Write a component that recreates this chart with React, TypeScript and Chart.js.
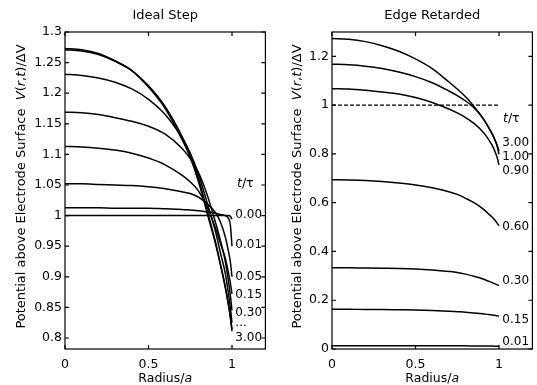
import React, { useEffect, useRef } from 'react';
import { Chart, registerables } from 'chart.js';

Chart.register(...registerables);

const FAMILY = '"DejaVu Sans", Verdana, sans-serif';

// radial positions r/a shared by every curve
const RADIUS = [0, 0.1, 0.2, 0.3, 0.4, 0.5, 0.6, 0.7, 0.75, 0.8, 0.85, 0.9, 0.93, 0.96, 0.98, 0.99, 1.0];

// ---- Ideal Step panel ----
const STEP_T000 = [1, 1, 1, 1, 1, 1, 1, 1, 1, 1, 1, 1, 1, 1, 1, 0.999, 0.994];
const STEP_T001 = [1.013, 1.013, 1.013, 1.012, 1.012, 1.012, 1.011, 1.01, 1.009, 1.008, 1.006, 1.004, 1.002, 1.0, 0.995, 0.985, 0.95];
const STEP_T005 = [1.052, 1.052, 1.051, 1.05, 1.049, 1.047, 1.044, 1.039, 1.036, 1.03, 1.02, 1.005, 0.99, 0.965, 0.94, 0.925, 0.9];
const STEP_T015 = [1.113, 1.112, 1.11, 1.107, 1.102, 1.094, 1.083, 1.066, 1.055, 1.04, 1.015, 0.98, 0.955, 0.93, 0.905, 0.89, 0.872];
const STEP_T030 = [1.169, 1.168, 1.165, 1.16, 1.154, 1.146, 1.133, 1.11, 1.093, 1.07, 1.035, 0.99, 0.96, 0.925, 0.89, 0.87, 0.845];
const STEP_T060 = [1.231, 1.229, 1.225, 1.218, 1.207, 1.19, 1.165, 1.127, 1.102, 1.067, 1.022, 0.975, 0.94, 0.905, 0.87, 0.85, 0.825];
const STEP_T100 = [1.271, 1.269, 1.263, 1.252, 1.237, 1.212, 1.178, 1.13, 1.1, 1.06, 1.01, 0.958, 0.922, 0.884, 0.853, 0.835, 0.814];
const STEP_T300 = [1.273, 1.271, 1.265, 1.253, 1.237, 1.21, 1.175, 1.125, 1.095, 1.055, 1.005, 0.955, 0.92, 0.882, 0.852, 0.834, 0.811];
const STEP_SERIES = [STEP_T000, STEP_T001, STEP_T005, STEP_T015, STEP_T030, STEP_T060, STEP_T100, STEP_T300];
const STEP_LABELS = ['0.00', '0.01', '0.05', '0.15', '0.30', '...', '3.00'];
const STEP_LABEL_Y = [1.001, 0.952, 0.9, 0.87, 0.841, 0.825, 0.8];
const STEP_Y_TICKS = [0.8, 0.85, 0.9, 0.95, 1.0, 1.05, 1.1, 1.15, 1.2, 1.25, 1.3];

// ---- Edge Retarded panel ----
const RET_T001 = [0.013, 0.013, 0.013, 0.013, 0.013, 0.013, 0.013, 0.013, 0.013, 0.013, 0.012, 0.012, 0.012, 0.012, 0.011, 0.011, 0.011];
const RET_T015 = [0.163, 0.163, 0.162, 0.162, 0.161, 0.16, 0.158, 0.155, 0.153, 0.151, 0.148, 0.145, 0.142, 0.139, 0.137, 0.136, 0.134];
const RET_T030 = [0.333, 0.333, 0.332, 0.331, 0.33, 0.328, 0.324, 0.318, 0.314, 0.307, 0.298, 0.288, 0.28, 0.272, 0.266, 0.263, 0.26];
const RET_T060 = [0.694, 0.693, 0.691, 0.687, 0.681, 0.673, 0.661, 0.645, 0.634, 0.618, 0.6, 0.577, 0.559, 0.54, 0.525, 0.515, 0.505];
const RET_T090 = [1.067, 1.066, 1.061, 1.054, 1.046, 1.031, 1.011, 0.984, 0.968, 0.949, 0.925, 0.893, 0.867, 0.834, 0.803, 0.783, 0.755];
const RET_T100 = [1.168, 1.166, 1.16, 1.15, 1.136, 1.117, 1.092, 1.058, 1.039, 1.017, 0.99, 0.95, 0.918, 0.881, 0.849, 0.829, 0.798];
const RET_T300 = [1.273, 1.27, 1.2605, 1.244, 1.221, 1.1895, 1.1495, 1.095, 1.066, 1.0346, 0.995, 0.9498, 0.9175, 0.8806, 0.8512, 0.8336, 0.8106];
const RET_SERIES = [RET_T001, RET_T015, RET_T030, RET_T060, RET_T090, RET_T100, RET_T300];
const RET_REF_X = [0, 1.0];
const RET_REF_Y = [1.0, 1.0];
const RET_LABELS = ['3.00', '1.00', '0.90', '0.60', '0.30', '0.15', '0.01'];
const RET_LABEL_Y = [0.845, 0.788, 0.731, 0.502, 0.278, 0.118, 0.029];
const RET_Y_TICKS = [0, 0.2, 0.4, 0.6, 0.8, 1.0, 1.2];

const X_TICKS = [0, 0.5, 1];

type Seg = { t: string; i?: boolean };

const Y_TITLE: Seg[] = [
  { t: 'Potential above Electrode Surface  ' },
  { t: 'V', i: true },
  { t: '(' },
  { t: 'r', i: true },
  { t: ',' },
  { t: 't', i: true },
  { t: ')/ΔV' },
];
const X_TITLE: Seg[] = [{ t: 'Radius/' }, { t: 'a', i: true }];
const TAU_TITLE: Seg[] = [{ t: 't', i: true }, { t: '/τ' }];

function drawRich(ctx: CanvasRenderingContext2D, segs: Seg[], x: number, y: number, size: number, align: 'center' | 'left') {
  const widths = segs.map((s) => {
    ctx.font = `${s.i ? 'italic ' : ''}${size}px ${FAMILY}`;
    return ctx.measureText(s.t).width;
  });
  const total = widths.reduce((a, b) => a + b, 0);
  let cx = align === 'center' ? x - total / 2 : x;
  ctx.textAlign = 'left';
  ctx.textBaseline = 'middle';
  segs.forEach((s, k) => {
    ctx.font = `${s.i ? 'italic ' : ''}${size}px ${FAMILY}`;
    ctx.fillText(s.t, cx, y);
    cx += widths[k];
  });
}

type Panel = {
  title: string;
  series: number[][];
  dashedX?: number[];
  dashedY?: number[];
  yMin: number;
  yMax: number;
  yTicks: number[];
  labels: string[];
  labelY: number[];
  tauY: number;
  tauX: number;
  labelX: number;
  yAxisWidth: number;
  rightPad: number;
  yTitleOffset: number;
};

const TICK_LEN = 4;

function makeChart(canvas: HTMLCanvasElement, p: Panel) {
  const datasets: any[] = p.series.map((s) => ({
    data: RADIUS.map((r, k) => ({ x: r, y: s[k] })),
    borderColor: '#000',
    borderWidth: 1.5,
    pointRadius: 0,
    fill: false,
    cubicInterpolationMode: 'monotone',
  }));
  if (p.dashedX && p.dashedY) {
    datasets.push({
      data: p.dashedX.map((x, k) => ({ x, y: p.dashedY![k] })),
      borderColor: '#000',
      borderWidth: 1.2,
      borderDash: [4, 2],
      pointRadius: 0,
      fill: false,
    });
  }
  const overlay = {
    id: 'overlay',
    afterDraw(chart: any) {
      const { ctx, chartArea: a, scales } = chart;
      const xs = scales.x;
      const ys = scales.y;
      ctx.save();
      ctx.strokeStyle = '#000';
      ctx.lineWidth = 1.2;
      ctx.strokeRect(a.left, a.top, a.right - a.left, a.bottom - a.top);
      ctx.beginPath();
      X_TICKS.forEach((v) => {
        const x = xs.getPixelForValue(v);
        ctx.moveTo(x, a.bottom);
        ctx.lineTo(x, a.bottom - TICK_LEN);
        ctx.moveTo(x, a.top);
        ctx.lineTo(x, a.top + TICK_LEN);
      });
      p.yTicks.forEach((v) => {
        const y = ys.getPixelForValue(v);
        ctx.moveTo(a.left, y);
        ctx.lineTo(a.left + TICK_LEN, y);
        ctx.moveTo(a.right, y);
        ctx.lineTo(a.right - TICK_LEN, y);
      });
      ctx.stroke();
      ctx.fillStyle = '#000';
      // title
      ctx.font = `13px ${FAMILY}`;
      ctx.textAlign = 'center';
      ctx.textBaseline = 'middle';
      ctx.fillText(p.title, (a.left + a.right) / 2, 16);
      // x title
      drawRich(ctx, X_TITLE, (a.left + a.right) / 2, a.bottom + 30, 12.5, 'center');
      // y title
      ctx.save();
      ctx.translate(a.left - p.yTitleOffset, (a.top + a.bottom) / 2 - 4);
      ctx.rotate(-Math.PI / 2);
      drawRich(ctx, Y_TITLE, 0, 0, 13, 'center');
      ctx.restore();
      // t/tau
      drawRich(ctx, TAU_TITLE, xs.getPixelForValue(p.tauX), ys.getPixelForValue(p.tauY), 12.5, 'left');
      // inline labels
      ctx.font = `12px ${FAMILY}`;
      ctx.textAlign = 'left';
      ctx.textBaseline = 'middle';
      p.labels.forEach((t, k) => {
        ctx.fillText(t, xs.getPixelForValue(p.labelX), ys.getPixelForValue(p.labelY[k]));
      });
      ctx.restore();
    },
  };
  return new Chart(canvas, {
    type: 'line',
    data: { datasets },
    plugins: [overlay],
    options: {
      animation: false,
      responsive: false,
      events: [],
      layout: { padding: { left: 0, right: p.rightPad, top: 32, bottom: 0 } },
      plugins: { legend: { display: false }, tooltip: { enabled: false }, title: { display: false } },
      scales: {
        x: {
          type: 'linear',
          min: 0,
          max: 1.2,
          grid: { display: false, drawTicks: false },
          border: { display: false },
          afterBuildTicks: (s: any) => {
            s.ticks = X_TICKS.map((v) => ({ value: v }));
          },
          afterFit: (s: any) => {
            s.height = 36;
          },
          ticks: {
            color: '#000',
            padding: 8,
            maxRotation: 0,
            font: { family: FAMILY, size: 12.5 },
            callback: (v: any) => String(Number(Number(v).toFixed(2))),
          },
        },
        y: {
          type: 'linear',
          min: p.yMin,
          max: p.yMax,
          grid: { display: false, drawTicks: false },
          border: { display: false },
          afterBuildTicks: (s: any) => {
            s.ticks = p.yTicks.map((v) => ({ value: v }));
          },
          afterFit: (s: any) => {
            s.width = p.yAxisWidth;
          },
          ticks: {
            color: '#000',
            padding: 3,
            font: { family: FAMILY, size: 12.5 },
            callback: (v: any) => String(Number(Number(v).toFixed(2))),
          },
        },
      },
    },
  });
}

const STEP_PANEL: Panel = {
  title: 'Ideal Step',
  series: STEP_SERIES,
  yMin: 0.782,
  yMax: 1.3,
  yTicks: STEP_Y_TICKS,
  labels: STEP_LABELS,
  labelY: STEP_LABEL_Y,
  tauY: 1.052,
  tauX: 1.03,
  labelX: 1.02,
  yAxisWidth: 65,
  rightPad: 2.6,
  yTitleOffset: 43,
};

const RET_PANEL: Panel = {
  title: 'Edge Retarded',
  series: RET_SERIES,
  dashedX: RET_REF_X,
  dashedY: RET_REF_Y,
  yMin: 0,
  yMax: 1.3,
  yTicks: RET_Y_TICKS,
  labels: RET_LABELS,
  labelY: RET_LABEL_Y,
  tauY: 0.943,
  tauX: 1.024,
  labelX: 1.02,
  yAxisWidth: 64,
  rightPad: 4.6,
  yTitleOffset: 34,
};

function PanelChart({ panel, left, width }: { panel: Panel; left: number; width: number }) {
  const ref = useRef<HTMLCanvasElement | null>(null);
  useEffect(() => {
    if (!ref.current) return;
    const c = makeChart(ref.current, panel);
    return () => c.destroy();
  }, [panel]);
  return (
    <canvas
      ref={ref}
      width={width}
      height={385}
      style={{ position: 'absolute', left, top: 0, width, height: 385, display: 'block' }}
    />
  );
}

export default function App() {
  return (
    <div style={{ position: 'absolute', left: 0, top: 0, width: 537, height: 385, background: '#fff', overflow: 'hidden' }}>
      <PanelChart panel={STEP_PANEL} left={0} width={268} />
      <PanelChart panel={RET_PANEL} left={268} width={269} />
    </div>
  );
}
